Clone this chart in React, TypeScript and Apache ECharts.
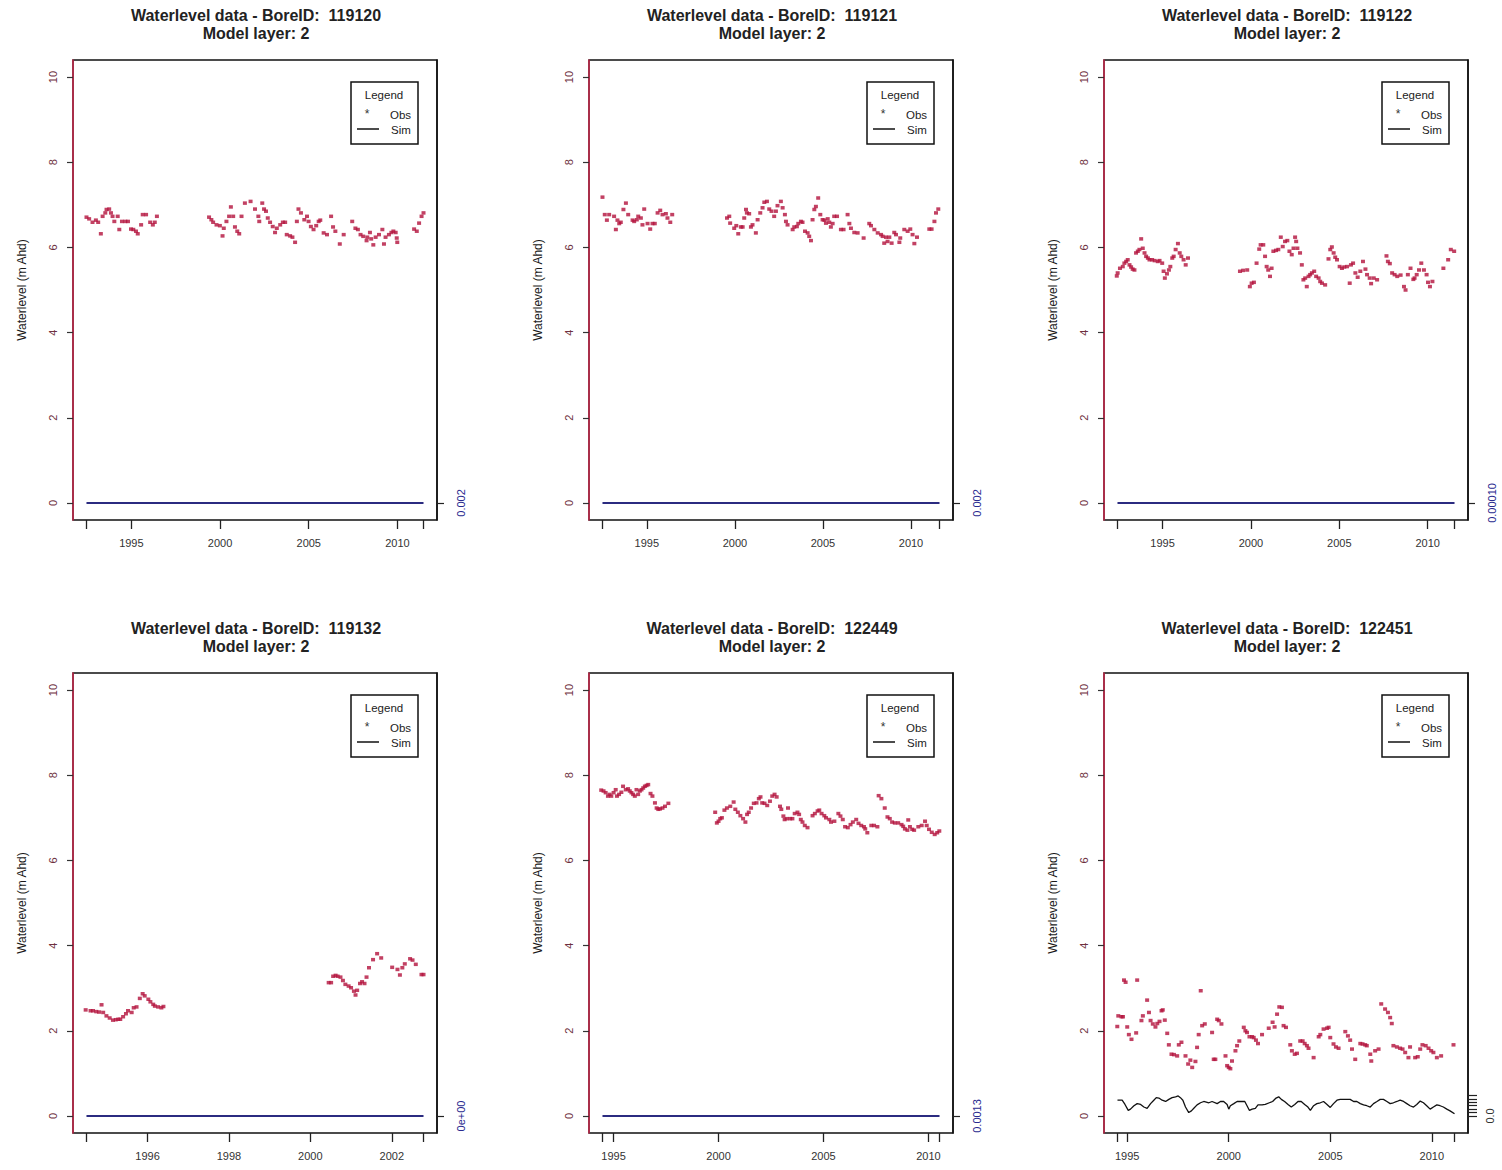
import React, { useEffect, useRef } from "react";
import * as echarts from "echarts";

const boreIds = ["119120", "119121", "119122", "119132", "122449", "122451"];
const modelLayers = [2, 2, 2, 2, 2, 2];

const obs119120: [number, number][] = [
  [1992.47,6.71],[1992.62,6.67],[1992.81,6.59],[1993.00,6.64],[1993.13,6.59],[1993.28,6.32],[1993.38,6.73],[1993.53,6.81],[1993.60,6.89],[1993.75,6.90],[1993.85,6.81],[1993.94,6.73],[1994.04,6.61],[1994.23,6.73],[1994.32,6.42],[1994.47,6.61],[1994.66,6.61],[1994.81,6.61],[1994.98,6.43],[1995.11,6.42],[1995.26,6.38],[1995.36,6.32],[1995.55,6.53],[1995.64,6.77],[1995.83,6.77],[1996.06,6.59],[1996.21,6.53],[1996.32,6.59],[1996.44,6.73],
  [1999.38,6.71],[1999.51,6.65],[1999.61,6.59],[1999.80,6.53],[1999.99,6.51],[2000.14,6.27],[2000.21,6.45],[2000.36,6.61],[2000.51,6.73],[2000.61,6.95],[2000.74,6.73],[2000.84,6.48],[2000.97,6.38],[2001.08,6.32],[2001.21,6.73],[2001.40,7.04],[2001.72,7.08],[2001.97,6.90],[2002.16,6.73],[2002.21,6.61],[2002.38,7.04],[2002.48,6.90],[2002.59,6.85],[2002.69,6.69],[2002.82,6.59],[2002.97,6.49],[2003.10,6.35],[2003.20,6.45],[2003.39,6.53],[2003.54,6.59],[2003.67,6.59],[2003.76,6.30],[2003.95,6.27],[2004.08,6.24],[2004.23,6.12],[2004.33,6.61],[2004.42,6.90],[2004.56,6.81],[2004.75,6.65],[2004.90,6.73],[2004.99,6.61],[2005.12,6.49],[2005.27,6.42],[2005.42,6.51],[2005.56,6.61],[2005.65,6.64],[2005.84,6.34],[2006.03,6.30],[2006.26,6.73],[2006.37,6.48],[2006.50,6.38],[2006.75,6.08],[2006.97,6.30],[2007.45,6.61],[2007.63,6.45],[2007.77,6.42],[2007.92,6.30],[2008.07,6.26],[2008.26,6.16],[2008.30,6.24],[2008.45,6.35],[2008.52,6.20],[2008.64,6.06],[2008.77,6.24],[2008.96,6.30],[2009.15,6.42],[2009.24,6.08],[2009.33,6.24],[2009.52,6.30],[2009.66,6.35],[2009.77,6.38],[2009.90,6.35],[2009.96,6.22],[2009.99,6.12],[2010.94,6.43],[2011.09,6.38],[2011.22,6.57],[2011.36,6.73],[2011.47,6.81]
];

const obs119121: [number, number][] = [
  [1992.48,7.18],[1992.61,6.77],[1992.73,6.64],[1992.86,6.77],[1993.14,6.73],[1993.24,6.42],[1993.33,6.64],[1993.43,6.56],[1993.52,6.59],[1993.67,6.89],[1993.81,7.04],[1993.94,6.77],[1994.19,6.64],[1994.28,6.61],[1994.43,6.65],[1994.51,6.73],[1994.66,6.69],[1994.75,6.53],[1994.85,6.90],[1995.04,6.56],[1995.19,6.43],[1995.32,6.56],[1995.45,6.56],[1995.61,6.81],[1995.76,6.87],[1995.89,6.77],[1996.08,6.79],[1996.17,6.69],[1996.33,6.59],[1996.44,6.77],
  [1999.55,6.69],[1999.68,6.73],[1999.73,6.57],[1999.96,6.45],[2000.08,6.51],[2000.19,6.32],[2000.34,6.48],[2000.44,6.48],[2000.53,6.69],[2000.63,6.89],[2000.68,6.81],[2000.81,6.79],[2000.91,6.48],[2001.00,6.53],[2001.19,6.34],[2001.29,6.65],[2001.44,6.81],[2001.57,6.93],[2001.67,7.06],[2001.82,7.08],[2001.95,6.90],[2002.08,6.85],[2002.23,6.73],[2002.33,6.85],[2002.42,6.98],[2002.61,7.08],[2002.71,6.93],[2002.84,6.77],[2002.90,6.61],[2002.99,6.53],[2003.28,6.42],[2003.37,6.48],[2003.52,6.49],[2003.60,6.56],[2003.75,6.61],[2003.84,6.59],[2003.98,6.38],[2004.13,6.34],[2004.22,6.26],[2004.32,6.16],[2004.41,6.65],[2004.51,6.89],[2004.60,6.96],[2004.73,7.16],[2004.85,6.77],[2004.98,6.65],[2005.08,6.64],[2005.17,6.57],[2005.27,6.67],[2005.36,6.59],[2005.45,6.48],[2005.55,6.56],[2005.64,6.73],[2005.80,6.73],[2006.02,6.42],[2006.17,6.42],[2006.40,6.77],[2006.50,6.56],[2006.59,6.45],[2006.78,6.35],[2006.97,6.34],[2007.31,6.22],[2007.63,6.56],[2007.73,6.51],[2007.92,6.42],[2008.11,6.34],[2008.30,6.30],[2008.39,6.26],[2008.48,6.10],[2008.58,6.24],[2008.67,6.14],[2008.77,6.24],[2008.90,6.10],[2009.05,6.35],[2009.15,6.30],[2009.34,6.12],[2009.39,6.22],[2009.62,6.42],[2009.81,6.38],[2009.96,6.43],[2010.09,6.30],[2010.19,6.09],[2010.34,6.24],[2011.04,6.43],[2011.17,6.43],[2011.33,6.61],[2011.42,6.81],[2011.55,6.90]
];

const obs119122: [number, number][] = [
  [1992.41,5.33],[1992.46,5.40],[1992.59,5.51],[1992.75,5.55],[1992.84,5.63],[1992.94,5.67],[1993.03,5.71],[1993.13,5.59],[1993.22,5.54],[1993.31,5.49],[1993.41,5.47],[1993.50,5.87],[1993.60,5.91],[1993.69,5.95],[1993.79,6.20],[1993.88,5.98],[1993.98,5.87],[1994.07,5.79],[1994.17,5.75],[1994.26,5.71],[1994.41,5.71],[1994.55,5.69],[1994.73,5.67],[1994.83,5.69],[1994.98,5.63],[1995.06,5.44],[1995.13,5.28],[1995.25,5.38],[1995.36,5.47],[1995.44,5.55],[1995.55,5.75],[1995.63,5.79],[1995.74,5.95],[1995.87,6.09],[1995.97,5.87],[1996.06,5.79],[1996.19,5.71],[1996.31,5.59],[1996.44,5.75],
  [1999.38,5.44],[1999.56,5.46],[1999.79,5.47],[1999.94,5.08],[2000.04,5.16],[2000.17,5.18],[2000.32,5.63],[2000.47,5.96],[2000.55,6.06],[2000.70,6.06],[2000.80,5.79],[2000.89,5.55],[2000.98,5.47],[2001.08,5.32],[2001.17,5.51],[2001.27,5.91],[2001.42,5.93],[2001.55,5.95],[2001.69,6.24],[2001.80,6.02],[2001.93,6.14],[2002.06,6.16],[2002.18,5.91],[2002.31,5.83],[2002.41,5.98],[2002.50,6.24],[2002.56,6.14],[2002.63,5.98],[2002.78,5.87],[2002.88,5.59],[2002.97,5.24],[2003.07,5.28],[2003.16,5.08],[2003.26,5.32],[2003.35,5.36],[2003.45,5.40],[2003.58,5.44],[2003.69,5.32],[2003.83,5.28],[2003.92,5.20],[2004.02,5.16],[2004.20,5.12],[2004.39,5.73],[2004.49,5.95],[2004.58,6.01],[2004.68,5.87],[2004.77,5.77],[2004.87,5.71],[2005.02,5.55],[2005.15,5.51],[2005.28,5.54],[2005.44,5.55],[2005.59,5.16],[2005.66,5.59],[2005.78,5.63],[2005.91,5.40],[2006.04,5.30],[2006.19,5.44],[2006.34,5.67],[2006.48,5.49],[2006.57,5.36],[2006.72,5.28],[2006.80,5.15],[2006.95,5.28],[2007.14,5.24],[2007.67,5.80],[2007.75,5.67],[2007.86,5.62],[2007.99,5.40],[2008.13,5.36],[2008.28,5.32],[2008.47,5.35],[2008.66,5.08],[2008.75,5.00],[2008.88,5.36],[2009.03,5.51],[2009.19,5.25],[2009.26,5.28],[2009.38,5.36],[2009.51,5.47],[2009.64,5.63],[2009.79,5.47],[2009.94,5.36],[2010.02,5.18],[2010.13,5.08],[2010.27,5.20],[2010.89,5.51],[2011.16,5.71],[2011.31,5.95],[2011.50,5.91]
];

const obs119132: [number, number][] = [
  [1994.48,2.49],[1994.60,2.47],[1994.66,2.47],[1994.74,2.45],[1994.81,2.44],[1994.87,2.61],[1994.91,2.43],[1994.99,2.35],[1995.07,2.30],[1995.15,2.25],[1995.22,2.26],[1995.28,2.27],[1995.33,2.27],[1995.40,2.33],[1995.47,2.40],[1995.52,2.47],[1995.61,2.43],[1995.66,2.54],[1995.73,2.56],[1995.81,2.76],[1995.88,2.87],[1995.93,2.82],[1996.02,2.74],[1996.07,2.68],[1996.14,2.62],[1996.18,2.58],[1996.26,2.56],[1996.34,2.54],[1996.39,2.57],
  [2000.45,3.13],[2000.51,3.13],[2000.56,3.28],[2000.62,3.30],[2000.67,3.28],[2000.74,3.26],[2000.80,3.18],[2000.86,3.09],[2000.94,3.05],[2001.00,3.01],[2001.07,2.93],[2001.11,2.84],[2001.15,2.95],[2001.22,3.11],[2001.27,3.15],[2001.33,3.11],[2001.38,3.26],[2001.44,3.48],[2001.54,3.67],[2001.64,3.81],[2001.74,3.71],[2002.01,3.49],[2002.14,3.44],[2002.20,3.31],[2002.26,3.48],[2002.32,3.57],[2002.45,3.69],[2002.51,3.66],[2002.59,3.56],[2002.73,3.32],[2002.78,3.32]
];

const obs122449: [number, number][] = [
  [1994.41,7.65],[1994.52,7.63],[1994.62,7.59],[1994.73,7.51],[1994.81,7.55],[1994.89,7.51],[1995.00,7.59],[1995.10,7.66],[1995.16,7.51],[1995.26,7.55],[1995.37,7.60],[1995.45,7.74],[1995.58,7.66],[1995.69,7.68],[1995.77,7.63],[1995.85,7.59],[1995.93,7.55],[1996.01,7.51],[1996.09,7.66],[1996.17,7.55],[1996.25,7.63],[1996.33,7.66],[1996.41,7.70],[1996.49,7.74],[1996.57,7.76],[1996.65,7.78],[1996.76,7.57],[1996.85,7.51],[1996.97,7.35],[1997.05,7.23],[1997.13,7.20],[1997.21,7.21],[1997.33,7.23],[1997.45,7.27],[1997.61,7.34],
  [1999.84,7.13],[1999.92,6.88],[2000.00,6.92],[2000.08,6.98],[2000.16,7.00],[2000.28,7.18],[2000.40,7.23],[2000.56,7.27],[2000.72,7.37],[2000.80,7.20],[2000.92,7.13],[2001.04,7.05],[2001.17,6.98],[2001.28,6.90],[2001.36,7.08],[2001.44,7.13],[2001.55,7.23],[2001.68,7.34],[2001.81,7.35],[2001.92,7.45],[2002.00,7.49],[2002.08,7.35],[2002.19,7.34],[2002.32,7.29],[2002.45,7.39],[2002.56,7.51],[2002.67,7.55],[2002.77,7.49],[2002.93,7.27],[2002.99,7.20],[2003.09,7.04],[2003.15,6.96],[2003.25,6.98],[2003.31,7.23],[2003.41,6.98],[2003.52,6.98],[2003.63,7.10],[2003.76,7.13],[2003.84,7.08],[2003.92,6.96],[2004.00,6.90],[2004.11,6.82],[2004.24,6.77],[2004.48,7.05],[2004.59,7.10],[2004.72,7.16],[2004.80,7.18],[2004.91,7.10],[2005.04,7.05],[2005.12,7.00],[2005.28,6.96],[2005.36,6.90],[2005.52,6.92],[2005.71,7.10],[2005.81,7.04],[2005.92,6.96],[2006.03,6.79],[2006.16,6.77],[2006.29,6.84],[2006.40,6.90],[2006.56,6.96],[2006.67,6.87],[2006.80,6.82],[2006.93,6.79],[2006.99,6.74],[2007.09,6.65],[2007.28,6.82],[2007.41,6.82],[2007.57,6.79],[2007.63,7.52],[2007.76,7.45],[2007.92,7.23],[2008.05,7.02],[2008.16,6.98],[2008.27,6.90],[2008.40,6.88],[2008.56,6.88],[2008.72,6.84],[2008.80,6.80],[2008.88,6.74],[2009.00,6.71],[2009.04,6.95],[2009.12,6.79],[2009.23,6.73],[2009.32,6.71],[2009.52,6.79],[2009.68,6.82],[2009.84,6.92],[2009.92,6.82],[2010.03,6.73],[2010.16,6.66],[2010.30,6.61],[2010.42,6.65],[2010.52,6.69]
];

const obs122451: [number, number][] = [
  [1994.51,2.10],[1994.56,2.35],[1994.72,2.33],[1994.79,2.33],[1994.84,3.19],[1994.92,3.14],[1995.00,2.09],[1995.08,1.91],[1995.21,1.80],[1995.44,1.95],[1995.49,3.19],[1995.70,2.24],[1995.77,2.35],[1995.98,2.72],[1996.07,2.43],[1996.15,2.24],[1996.26,2.16],[1996.39,2.09],[1996.48,2.17],[1996.59,2.22],[1996.69,2.47],[1996.75,2.49],[1996.85,2.25],[1996.97,1.94],[1997.05,1.67],[1997.18,1.45],[1997.30,1.44],[1997.46,1.41],[1997.54,1.67],[1997.67,1.73],[1997.87,1.41],[1998.00,1.22],[1998.11,1.31],[1998.20,1.14],[1998.36,1.28],[1998.44,1.61],[1998.52,1.91],[1998.62,2.94],[1998.69,2.12],[1998.82,2.16],[1999.18,1.96],[1999.26,1.33],[1999.34,1.33],[1999.43,2.27],[1999.51,2.24],[1999.64,2.16],[1999.84,1.41],[1999.92,1.18],[2000.00,1.14],[2000.08,1.11],[2000.16,1.29],[2000.33,1.53],[2000.41,1.65],[2000.52,1.76],[2000.74,2.08],[2000.82,2.00],[2000.90,1.96],[2001.02,1.86],[2001.15,1.86],[2001.23,1.84],[2001.34,1.78],[2001.44,1.70],[2001.64,1.91],[2001.97,2.06],[2002.16,2.20],[2002.26,2.09],[2002.38,2.39],[2002.49,2.56],[2002.62,2.55],[2002.70,2.12],[2002.82,2.08],[2003.03,1.67],[2003.11,1.53],[2003.25,1.45],[2003.36,1.47],[2003.52,1.76],[2003.64,1.76],[2003.74,1.70],[2003.85,1.65],[2003.93,1.59],[2004.18,1.37],[2004.43,1.86],[2004.51,1.91],[2004.67,2.04],[2004.84,2.06],[2004.92,2.08],[2005.00,1.84],[2005.16,1.69],[2005.28,1.62],[2005.41,1.59],[2005.74,1.98],[2005.87,1.88],[2005.98,1.78],[2006.07,1.57],[2006.23,1.33],[2006.48,1.70],[2006.59,1.69],[2006.72,1.67],[2006.80,1.65],[2006.97,1.45],[2007.02,1.29],[2007.21,1.53],[2007.38,1.57],[2007.51,2.63],[2007.70,2.51],[2007.84,2.43],[2007.95,2.31],[2008.03,2.17],[2008.11,1.65],[2008.28,1.62],[2008.44,1.59],[2008.56,1.57],[2008.69,1.49],[2008.85,1.37],[2008.93,1.62],[2009.18,1.37],[2009.31,1.39],[2009.43,1.57],[2009.54,1.67],[2009.70,1.65],[2009.84,1.59],[2009.97,1.53],[2010.08,1.49],[2010.25,1.37],[2010.46,1.41],[2011.07,1.67]
];

// Simulated levels (flat at zero for the first five bores)
const sim119120: [number, number][] = [[1992.47, 0], [2011.47, 0]];
const sim119121: [number, number][] = [[1992.48, 0], [2011.62, 0]];
const sim119122: [number, number][] = [[1992.45, 0], [2011.52, 0]];
const sim119132: [number, number][] = [[1994.50, 0], [2002.78, 0]];
const sim122449: [number, number][] = [[1994.47, 0], [2010.53, 0]];
const sim122451: [number, number][] = [
  [1994.52,0.37],[1994.75,0.37],[1994.89,0.27],[1995.05,0.13],[1995.16,0.16],[1995.33,0.24],[1995.49,0.29],[1995.66,0.27],[1995.82,0.21],[1995.98,0.18],[1996.15,0.29],[1996.31,0.37],[1996.43,0.43],[1996.56,0.42],[1996.72,0.37],[1996.89,0.34],[1997.05,0.39],[1997.21,0.43],[1997.38,0.45],[1997.51,0.47],[1997.62,0.43],[1997.74,0.37],[1997.87,0.21],[1998.03,0.08],[1998.16,0.12],[1998.28,0.18],[1998.44,0.26],[1998.61,0.31],[1998.77,0.34],[1999.02,0.31],[1999.18,0.34],[1999.43,0.29],[1999.59,0.34],[1999.75,0.34],[1999.92,0.27],[2000.00,0.16],[2000.08,0.24],[2000.25,0.29],[2000.41,0.34],[2000.57,0.34],[2000.79,0.34],[2000.90,0.24],[2001.02,0.13],[2001.15,0.16],[2001.31,0.18],[2001.44,0.26],[2001.64,0.26],[2001.80,0.27],[2002.00,0.31],[2002.16,0.34],[2002.33,0.42],[2002.46,0.45],[2002.59,0.39],[2002.75,0.34],[2002.92,0.27],[2003.08,0.21],[2003.25,0.27],[2003.41,0.34],[2003.57,0.34],[2003.74,0.27],[2003.90,0.21],[2004.02,0.13],[2004.18,0.24],[2004.34,0.29],[2004.51,0.31],[2004.67,0.34],[2004.84,0.27],[2005.00,0.20],[2005.16,0.29],[2005.33,0.37],[2005.49,0.39],[2005.74,0.39],[2005.98,0.39],[2006.15,0.34],[2006.31,0.34],[2006.48,0.29],[2006.64,0.26],[2006.80,0.24],[2006.97,0.21],[2007.13,0.29],[2007.30,0.34],[2007.46,0.39],[2007.62,0.39],[2007.79,0.34],[2007.95,0.29],[2008.11,0.31],[2008.28,0.34],[2008.44,0.37],[2008.61,0.34],[2008.77,0.29],[2008.93,0.24],[2009.10,0.21],[2009.26,0.27],[2009.43,0.35],[2009.59,0.31],[2009.75,0.24],[2009.92,0.16],[2010.08,0.21],[2010.25,0.26],[2010.41,0.24],[2010.57,0.21],[2010.74,0.16],[2010.90,0.12],[2011.12,0.05]
];

const obsSeries = [obs119120, obs119121, obs119122, obs119132, obs122449, obs122451];
const simSeries = [sim119120, sim119121, sim119122, sim119132, sim122449, sim122451];

const yTickValues = [0, 2, 4, 6, 8, 10];
const xTickLabels = [
  [1995, 2000, 2005, 2010],
  [1995, 2000, 2005, 2010],
  [1995, 2000, 2005, 2010],
  [1996, 1998, 2000, 2002],
  [1995, 2000, 2005, 2010],
  [1995, 2000, 2005, 2010],
];
const rightAxisLabels = ["0.002", "0.002", "0.00010", "0e+00", "0.0013", "0.0"];
const rightAxisTicks = [[0], [0], [0], [0], [0], [0, 0.08, 0.16, 0.24, 0.32, 0.4, 0.48]];

const colLeft = [73, 589, 1104];
const rowTop = [60, 673];
const gridW = 364;
const gridH = 460;
const FONT = "'Liberation Sans', Arial, sans-serif";
const OBS_COLOR = "#b3123c";
const SIM_COLOR = "#2b2b80";

function buildOption() {
  const grid: any[] = [];
  const xAxis: any[] = [];
  const yAxis: any[] = [];
  const series: any[] = [];
  const title: any[] = [];
  const graphic: any[] = [];

  for (let i = 0; i < 6; i++) {
    const L = colLeft[i % 3];
    const T = rowTop[Math.floor(i / 3)];
    const sim = simSeries[i];
    const start = sim[0][0];
    const end = sim[sim.length - 1][0];
    const ext = (end - start) * 0.04;

    grid.push({
      left: L, top: T, width: gridW, height: gridH,
      show: true, borderColor: "#111", borderWidth: 1.5, backgroundColor: "#fff",
    });

    xAxis.push({
      type: "value", gridIndex: i, min: start - ext, max: end + ext,
      axisLine: { show: false, onZero: false },
      splitLine: { show: false },
      axisTick: {
        show: true, length: 9, inside: false,
        lineStyle: { color: "#222", width: 1.3 },
        customValues: [start, ...xTickLabels[i], end],
      },
      axisLabel: {
        customValues: xTickLabels[i], color: "#333", fontSize: 11, fontFamily: FONT,
        margin: 17, formatter: (v: number) => String(Math.round(v)),
      },
    });

    yAxis.push({
      type: "value", gridIndex: i, position: "left", min: -0.4, max: 10.4,
      splitLine: { show: false },
      axisLine: { show: true, onZero: false, lineStyle: { color: "#c8264a", width: 1.5 } },
      axisTick: { show: true, length: 6, customValues: yTickValues, lineStyle: { color: "#333", width: 1.2 } },
      axisLabel: {
        customValues: yTickValues, rotate: 90, margin: 15, color: "#6e3040",
        fontSize: 11, fontFamily: FONT, formatter: (v: number) => String(v),
      },
      name: "Waterlevel (m Ahd)", nameLocation: "middle", nameGap: 45, nameRotate: 90,
      nameTextStyle: { fontSize: 12, color: "#1a1a1a", fontFamily: FONT },
    });

    yAxis.push({
      type: "value", gridIndex: i, position: "right", min: -0.4, max: 10.4,
      splitLine: { show: false },
      axisLine: { show: true, onZero: false, lineStyle: { color: "#111", width: 1.5 } },
      axisTick: { show: true, length: i === 5 ? 9 : 7, customValues: rightAxisTicks[i], lineStyle: { color: "#222", width: 1.2 } },
      axisLabel: {
        customValues: [0], rotate: 90, margin: i === 5 ? 16 : 18,
        color: i === 5 ? "#333" : "#2a2a90", fontSize: 11, fontFamily: FONT,
        formatter: () => rightAxisLabels[i],
      },
    });

    series.push({
      type: "line", xAxisIndex: i, yAxisIndex: 2 * i, data: sim,
      showSymbol: false, symbol: "none", silent: true,
      lineStyle: { color: i === 5 ? "#111" : SIM_COLOR, width: i === 5 ? 1.3 : 2 },
      z: 2,
    });
    series.push({
      type: "scatter", xAxisIndex: i, yAxisIndex: 2 * i, data: obsSeries[i],
      symbol: "rect", symbolSize: [4, 3.5], silent: true,
      itemStyle: { color: OBS_COLOR },
      z: 3,
    });

    title.push({
      text: `Waterlevel data - BoreID:  ${boreIds[i]}\nModel layer: ${modelLayers[i]}`,
      left: L + gridW / 2 - 4, top: T - 59, textAlign: "center",
      textStyle: { fontSize: 16, fontWeight: "bold", color: "#222", fontFamily: FONT, lineHeight: 18 },
    });

    const lx = L + 278;
    const ly = T + 22;
    graphic.push(
      { type: "rect", z: 50, shape: { x: lx, y: ly, width: 67, height: 62 }, style: { fill: "#fff", stroke: "#111", lineWidth: 1.5 } },
      { type: "text", z: 51, x: lx + 33, y: ly + 13, style: { text: "Legend", fill: "#222", font: `11.5px ${FONT}`, align: "center", verticalAlign: "middle", textAlign: "center", textVerticalAlign: "middle" } },
      { type: "text", z: 51, x: lx + 16, y: ly + 32, style: { text: "*", fill: "#333", font: `12px ${FONT}`, align: "center", verticalAlign: "middle", textAlign: "center", textVerticalAlign: "middle" } },
      { type: "text", z: 51, x: lx + 39, y: ly + 33, style: { text: "Obs", fill: "#222", font: `11.5px ${FONT}`, align: "left", verticalAlign: "middle", textAlign: "left", textVerticalAlign: "middle" } },
      { type: "line", z: 51, shape: { x1: lx + 6, y1: ly + 47, x2: lx + 28, y2: ly + 47 }, style: { stroke: "#111", lineWidth: 1.5 } },
      { type: "text", z: 51, x: lx + 40, y: ly + 48, style: { text: "Sim", fill: "#222", font: `11.5px ${FONT}`, align: "left", verticalAlign: "middle", textAlign: "left", textVerticalAlign: "middle" } },
    );
  }

  return {
    animation: false,
    backgroundColor: "#fff",
    title, grid, xAxis, yAxis, series, graphic,
  };
}

export default function App() {
  const ref = useRef<HTMLDivElement>(null);
  useEffect(() => {
    if (!ref.current) return;
    const chart = echarts.init(ref.current, undefined, { renderer: "svg" });
    chart.setOption(buildOption() as any);
    return () => chart.dispose();
  }, []);
  return (
    <div
      ref={ref}
      style={{ position: "absolute", left: 0, top: 0, width: 1502, height: 1170, background: "#fff" }}
    />
  );
}
